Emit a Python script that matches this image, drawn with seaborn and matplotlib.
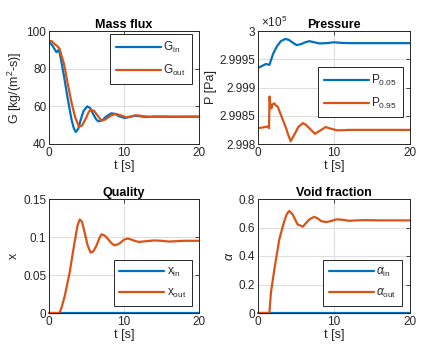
import numpy as np
import pandas as pd
import matplotlib
matplotlib.use("Agg")
import matplotlib.pyplot as plt
import seaborn as sns

sns.set_style("white")
plt.rcParams['font.family'] = ['Liberation Sans', 'DejaVu Sans']
plt.rcParams['mathtext.fontset'] = 'custom'
plt.rcParams['mathtext.rm'] = 'Liberation Sans'
plt.rcParams['mathtext.it'] = 'Liberation Sans:italic'
plt.rcParams['mathtext.bf'] = 'Liberation Sans:bold'

BLUE = '#0072BD'
ORANGE = '#D95319'
DARK = '#262626'

# ---------------- data ----------------
t_gin = [0, 0.5, 0.98, 1.25, 1.45, 2.0, 2.5, 3.0, 3.3, 3.56, 3.9, 4.2, 4.6, 5.1, 5.5, 5.9,
         6.3, 6.6, 7.1, 7.6, 8.3, 8.8, 9.3, 10.1, 10.7, 11.3, 12.0, 13.0, 14.0, 15.0, 16.5, 18.0, 20.0]
g_in = [94.5, 92.0, 88.8, 89.8, 88.0, 76.0, 64.0, 53.0, 48.5, 46.4, 48.0, 52.5, 57.5, 60.0, 59.0, 55.8,
        53.0, 52.0, 52.6, 54.5, 56.3, 56.0, 54.8, 53.8, 54.3, 55.0, 54.8, 54.3, 54.6, 54.5, 54.4, 54.5, 54.5]

t_gout = [0, 0.4, 0.76, 1.1, 1.4, 1.7, 2.0, 2.5, 3.0, 3.5, 4.0, 4.4, 4.9, 5.3, 5.55, 6.0, 6.5,
          7.0, 7.5, 8.2, 8.9, 9.5, 10.3, 11.0, 11.6, 12.5, 13.5, 15.0, 17.0, 20.0]
g_out = [94.9, 94.5, 93.0, 92.0, 90.6, 86.5, 82.5, 72.0, 62.0, 54.0, 49.2, 49.8, 53.5, 57.0, 58.2, 57.6, 55.0,
         52.4, 53.0, 55.0, 56.0, 55.3, 54.2, 54.6, 55.3, 54.8, 54.4, 54.6, 54.5, 54.5]

t_p05 = [0, 0.5, 1.05, 1.5, 1.7, 2.0, 2.5, 3.0, 3.6, 4.1, 4.6, 5.1, 5.7, 6.2, 6.75, 7.4, 8.1, 9.0,
         10.0, 11.0, 12.0, 14.0, 16.0, 18.0, 20.0]
p05 = [299934.5, 299938, 299941.6, 299940, 299948, 299960, 299973, 299982, 299986, 299984, 299979, 299975,
       299977, 299980, 299982, 299980, 299978, 299978.5, 299980, 299979, 299978.5, 299978.5, 299978.5, 299978.5, 299978.5]

t_p95 = [0, 0.5, 1.27, 1.45, 1.52, 1.6, 1.75, 1.9, 2.15, 2.35, 2.6, 3.0, 3.4, 3.7, 4.0, 4.3, 4.8,
         5.3, 5.9, 6.3, 6.75, 7.5, 8.2, 8.9, 9.6, 10.5, 12.0, 14.0, 16.0, 18.0, 20.0]
p95 = [299828, 299829, 299831, 299828, 299884, 299872, 299863, 299870, 299872, 299868, 299866, 299852, 299838,
       299828, 299815, 299805, 299817, 299830, 299837, 299834, 299828, 299818, 299824, 299830, 299827, 299824,
       299825, 299825, 299825, 299825, 299825]

t_x = [0, 1.42, 1.7, 2.1, 2.75, 3.4, 3.8, 4.1, 4.4, 4.75, 5.15, 5.55, 5.9, 6.3, 6.7, 7.0, 7.4, 7.9,
       8.3, 8.75, 9.2, 9.6, 10.0, 10.5, 11.0, 11.4, 12.0, 13.0, 14.0, 15.0, 16.0, 18.0, 20.0]
x_out = [0, 0, 0.008, 0.0224, 0.053, 0.0925, 0.115, 0.123, 0.12, 0.106, 0.089, 0.0794, 0.081, 0.088, 0.098,
         0.1035, 0.102, 0.097, 0.092, 0.089, 0.0905, 0.093, 0.0965, 0.098, 0.0965, 0.095, 0.0935, 0.0945, 0.0955,
         0.095, 0.094, 0.095, 0.095]
x_in = [0.0, 0.0]
t_xin = [0, 20]

t_a = [0, 1.5, 1.7, 2.15, 2.8, 3.46, 3.8, 4.1, 4.56, 5.2, 5.9, 6.3, 6.75, 7.4, 7.9, 8.3, 8.95, 9.6,
       10.3, 11.0, 12.0, 13.0, 14.0, 16.0, 18.0, 20.0]
a_out = [0, 0, 0.143, 0.306, 0.517, 0.646, 0.695, 0.716, 0.692, 0.622, 0.606, 0.63, 0.657, 0.675, 0.662,
         0.645, 0.638, 0.645, 0.657, 0.655, 0.647, 0.65, 0.652, 0.65, 0.65, 0.65]
a_in = [0.0, 0.0]
t_ain = [0, 20]

# ---------------- figure ----------------
fig = plt.figure(figsize=(4.26, 3.57), dpi=100)
W, H = 426.0, 357.0

def make_ax(l, t, r, b):
    return fig.add_axes([l / W, 1 - b / H, (r - l) / W, (b - t) / H])

ax1 = make_ax(49, 31, 199, 144)
ax2 = make_ax(258, 31, 410, 144)
ax3 = make_ax(49, 199, 199, 313)
ax4 = make_ax(258, 199, 410, 313)

FS = 8.5

def draw(ax, t, y, color, label, clip=True):
    df = pd.DataFrame({'t': t, 'y': y})
    sns.lineplot(data=df, x='t', y='y', ax=ax, color=color, lw=1.6, label=label,
                 estimator=None, sort=False, clip_on=clip)

draw(ax1, t_gin, g_in, BLUE, r'$\mathregular{G_{in}}$')
draw(ax1, t_gout, g_out, ORANGE, r'$\mathregular{G_{out}}$')
draw(ax2, t_p05, np.array(p05) / 1e5, BLUE, r'$\mathregular{P_{0.05}}$')
draw(ax2, t_p95, np.array(p95) / 1e5, ORANGE, r'$\mathregular{P_{0.95}}$')
draw(ax3, t_xin, x_in, BLUE, r'$\mathregular{x_{in}}$', clip=False)
draw(ax3, t_x, x_out, ORANGE, r'$\mathregular{x_{out}}$', clip=False)
draw(ax4, t_ain, a_in, BLUE, r'$\alpha_{\mathregular{in}}$', clip=False)
draw(ax4, t_a, a_out, ORANGE, r'$\alpha_{\mathregular{out}}$', clip=False)

cfg = [
    (ax1, 'Mass flux', r'G [kg/(m$^2$-s)]', (40, 100), [40, 60, 80, 100], ['40', '60', '80', '100'],
     'upper right', (0.953, 0.973)),
    (ax2, 'Pressure', 'P [Pa]', (2.998, 3.0), [2.998, 2.9985, 2.999, 2.9995, 3.0],
     ['2.998', '2.9985', '2.999', '2.9995', '3'], 'upper right', (0.954, 0.681)),
    (ax3, 'Quality', 'x', (0, 0.15), [0, 0.05, 0.1, 0.15], ['0', '0.05', '0.1', '0.15'],
     'lower right', (0.953, 0.061)),
    (ax4, 'Void fraction', r'$\alpha$', (0, 0.8), [0, 0.2, 0.4, 0.6, 0.8], ['0', '0.2', '0.4', '0.6', '0.8'],
     'lower right', (0.947, 0.061)),
]

for ax, title, ylab, ylim, yt, ytl, loc, anchor in cfg:
    ax.set_xlim(0, 20)
    ax.set_ylim(*ylim)
    ax.set_xticks([0, 10, 20])
    ax.set_xticklabels(['0', '10', '20'])
    ax.set_yticks(yt)
    ax.set_yticklabels(ytl)
    ax.set_title(title, fontsize=FS + 0.5, fontweight='bold', color='black', pad=2)
    ax.set_xlabel('t [s]', fontsize=FS + 0.5, color=DARK, labelpad=1)
    ax.set_ylabel(ylab, fontsize=FS + 0.5, color=DARK, labelpad=2)
    ax.grid(True, color='#dedede', lw=0.8)
    ax.set_axisbelow(True)
    ax.tick_params(direction='in', length=3, width=0.6, colors=DARK, labelsize=FS,
                   top=True, right=True, pad=2)
    for s in ax.spines.values():
        s.set_color(DARK)
        s.set_linewidth(0.7)
        s.set_visible(True)
    leg = ax.legend(loc=loc, bbox_to_anchor=anchor, borderaxespad=0, fontsize=FS,
                    handlelength=3.8, handletextpad=0.2, labelspacing=0.7,
                    borderpad=0.5, fancybox=False, framealpha=1, edgecolor=DARK)
    leg.get_frame().set_linewidth(0.7)

ax2.text(0.02, 1.01, r'$\mathregular{\times10^5}$', transform=ax2.transAxes, fontsize=FS,
         color=DARK, ha='left', va='bottom')

fig.savefig('out.png', dpi=100)
